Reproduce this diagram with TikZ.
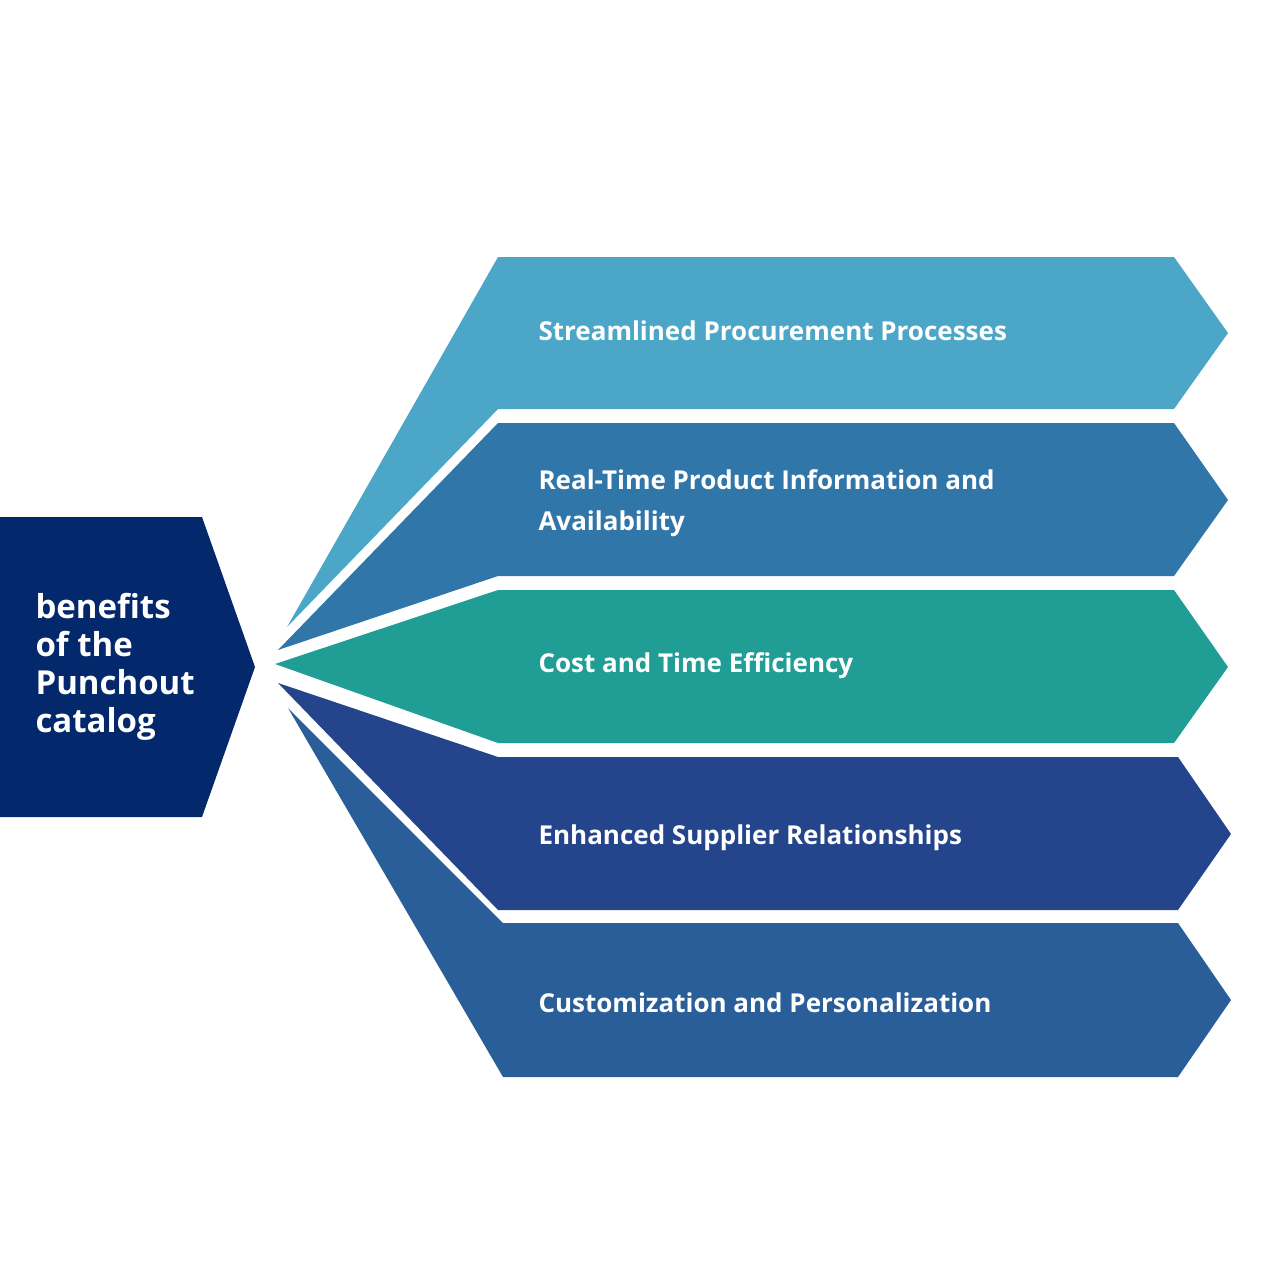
\documentclass[tikz,border=0pt]{standalone}
\usepackage{fontspec}
\setmainfont{Open Sans}
\begin{document}
\begin{tikzpicture}[x=1pt,y=-1pt,
 band/.style={draw=none},
 lbl/.style={anchor=west,text=white,font=\fontsize{26}{41}\selectfont\bfseries,align=left}]
\useasboundingbox (0,0) rectangle (1280,1280);
\definecolor{cA}{HTML}{4BA6C7}\definecolor{cB}{HTML}{3176A9}
\definecolor{cC}{HTML}{209E96}\definecolor{cD}{HTML}{24448C}
\definecolor{cE}{HTML}{2A5E99}\definecolor{cN}{HTML}{03286B}
\fill[cN] (0,517)--(202,517)--(255,667)--(202,817)--(0,817)--cycle;
\node[lbl,font=\fontsize{33}{38}\selectfont\bfseries] (hub) at (32,667) {benefits\\of the\\Punchout\\catalog};
\fill[cA] (287,627)--(498,257)--(1174,257)--(1228,333)--(1174,409)--(498,409)--cycle;
\fill[cB] (278,650)--(498,423)--(1174,423)--(1228,500)--(1174,576)--(498,576)--cycle;
\fill[cC] (275,664)--(498,590)--(1174,590)--(1228,667)--(1174,743)--(498,743)--cycle;
\fill[cD] (278,683)--(498,757)--(1178,757)--(1231,834)--(1178,910)--(498,910)--cycle;
\fill[cE] (288,708)--(503,923)--(1178,923)--(1231,1000)--(1178,1077)--(503,1077)--cycle;
\node[lbl] (t1) at (535,331) {Streamlined Procurement Processes};
\node[lbl] (t2) at (535,503) {Real-Time Product Information and\\Availability};
\node[lbl] (t3) at (535,666) {Cost and Time Efficiency};
\node[lbl] (t4) at (535,838) {Enhanced Supplier Relationships};
\node[lbl] (t5) at (535,1003) {Customization and Personalization};
\end{tikzpicture}
\end{document}
